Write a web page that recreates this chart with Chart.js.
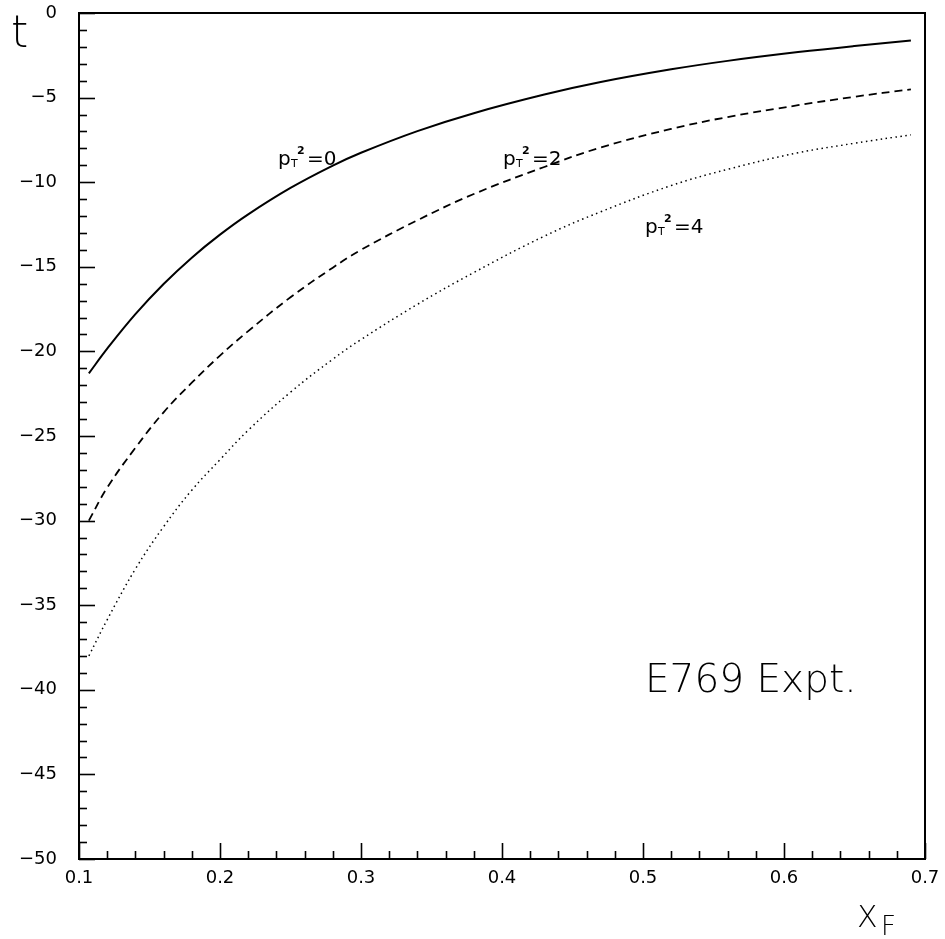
<!DOCTYPE html>
<html>
<head>
<meta charset="utf-8">
<script src="https://cdn.jsdelivr.net/npm/chart.js@4/dist/chart.umd.min.js"></script>
<style>
  html, body { margin: 0; padding: 0; background: #fff; }
  canvas { display: block; }
</style>
</head>
<body>
<canvas id="c" width="945" height="939"></canvas>
<script>
// ---- Data ----
const xF   = [0.107, 0.12, 0.14, 0.16, 0.18, 0.20, 0.22, 0.25, 0.28, 0.30, 0.34, 0.38, 0.43, 0.47, 0.52, 0.56, 0.61, 0.65, 0.69];
const tPt0 = [-21.3, -19.84, -17.80, -16.02, -14.46, -13.10, -11.90, -10.34, -9.02, -8.26, -6.98, -5.92, -4.82, -4.08, -3.33, -2.83, -2.31, -1.95, -1.63];
const tPt2 = [-30.0, -28.05, -25.7, -23.6, -21.85, -20.25, -18.8, -16.8, -15.05, -14.0, -12.25, -10.7, -9.1, -7.95, -6.85, -6.15, -5.45, -4.95, -4.51];
const tPt4 = [-38.0, -35.86, -32.86, -30.36, -28.2, -26.4, -24.66, -22.41, -20.46, -19.3, -17.22, -15.34, -13.19, -11.75, -10.2, -9.24, -8.26, -7.7, -7.2];
const xTicks = [0.1, 0.2, 0.3, 0.4, 0.5, 0.6, 0.7];
const yTicks = [0, -5, -10, -15, -20, -25, -30, -35, -40, -45, -50];
const curveLabels = [
  { x: 0.2411, y: -8.98, value: "0" },
  { x: 0.4007, y: -8.98, value: "2" },
  { x: 0.5014, y: -13.0, value: "4" }
];
const exptLabel = { x: 0.5014, y: -40.13, text: "E769 Expt." };

const FONT = "'DejaVu Sans', 'Liberation Sans', sans-serif";
const THIN = '200 ';

function pts(ys) { return xF.map((x, i) => ({ x: x, y: ys[i] })); }

const decor = {
  id: 'decor',
  afterDraw(chart) {
    const ctx = chart.ctx;
    const a = chart.chartArea;
    const xs = chart.scales.x, ys = chart.scales.y;
    ctx.save();
    ctx.strokeStyle = '#000';
    // minor / major ticks, pointing inward
    ctx.lineWidth = 1.6;
    for (let i = 0; i <= 30; i++) {
      const v = 0.1 + i * 0.02;
      const px = Math.round(xs.getPixelForValue(v)) + 0.5;
      const len = (i % 5 === 0) ? 16 : 8;
      ctx.beginPath(); ctx.moveTo(px, a.bottom); ctx.lineTo(px, a.bottom - len); ctx.stroke();
    }
    for (let i = 0; i <= 50; i++) {
      const v = -i;
      const py = Math.round(ys.getPixelForValue(v)) + 0.5;
      const len = (i % 5 === 0) ? 16 : 8;
      ctx.beginPath(); ctx.moveTo(a.left, py); ctx.lineTo(a.left + len, py); ctx.stroke();
    }
    // frame
    ctx.lineWidth = 2;
    ctx.strokeRect(a.left, a.top, a.right - a.left, a.bottom - a.top);

    ctx.fillStyle = '#000';
    ctx.textBaseline = 'alphabetic';
    ctx.textAlign = 'left';
    // curve labels p_T^2 = n
    curveLabels.forEach(l => {
      const px = xs.getPixelForValue(l.x);
      const py = ys.getPixelForValue(l.y);
      ctx.font = '20px ' + FONT;
      ctx.fillText('p', px, py);
      ctx.font = '11px ' + FONT;
      ctx.fillText('T', px + 13, py + 2);
      ctx.font = 'bold 11px ' + FONT;
      ctx.fillText('2', px + 19, py - 11);
      ctx.font = '20px ' + FONT;
      ctx.fillText('=' + l.value, px + 29, py);
    });
    // experiment label
    ctx.font = THIN + '39px ' + FONT;
    ctx.fillText(exptLabel.text, xs.getPixelForValue(exptLabel.x), ys.getPixelForValue(exptLabel.y));
    // axis titles
    ctx.font = THIN + '44px ' + FONT;
    ctx.fillText('t', 11, 47);
    ctx.font = THIN + '30px ' + FONT;
    ctx.fillText('X', 857, 927);
    ctx.font = THIN + '26px ' + FONT;
    ctx.fillText('F', 881, 935);
    ctx.restore();
  }
};

new Chart(document.getElementById('c'), {
  type: 'line',
  data: {
    datasets: [
      { label: 'pT2=0', data: pts(tPt0), borderColor: '#000', borderWidth: 2, pointRadius: 0, tension: 0.4, fill: false },
      { label: 'pT2=2', data: pts(tPt2), borderColor: '#000', borderWidth: 1.8, borderDash: [8, 5], pointRadius: 0, tension: 0.4, fill: false },
      { label: 'pT2=4', data: pts(tPt4), borderColor: '#000', borderWidth: 1.5, borderDash: [1.5, 3.5], pointRadius: 0, tension: 0.4, fill: false }
    ]
  },
  options: {
    responsive: false,
    animation: false,
    devicePixelRatio: 1,
    layout: { padding: { top: 13, right: 20, left: 0, bottom: 0 } },
    plugins: { legend: { display: false }, tooltip: { enabled: false } },
    scales: {
      x: {
        type: 'linear', min: 0.1, max: 0.7,
        afterBuildTicks: s => { s.ticks = xTicks.map(v => ({ value: v })); },
        ticks: { color: '#000', font: { family: FONT, size: 18 }, padding: 9, maxRotation: 0, autoSkip: false, callback: v => v.toFixed(1) },
        grid: { display: false, drawTicks: false },
        border: { display: false },
        afterFit: s => { s.height = 80; s.paddingLeft = 0; s.paddingRight = 0; }
      },
      y: {
        type: 'linear', min: -50, max: 0,
        afterBuildTicks: s => { s.ticks = yTicks.map(v => ({ value: v })); },
        ticks: { color: '#000', font: { family: FONT, size: 18 }, padding: 22, autoSkip: false, callback: v => (v < 0 ? '\u2212' + Math.abs(v) : String(v)) },
        grid: { display: false, drawTicks: false },
        border: { display: false },
        afterFit: s => { s.width = 79; s.paddingTop = 0; s.paddingBottom = 0; }
      }
    }
  },
  plugins: [decor]
});
</script>
</body>
</html>
